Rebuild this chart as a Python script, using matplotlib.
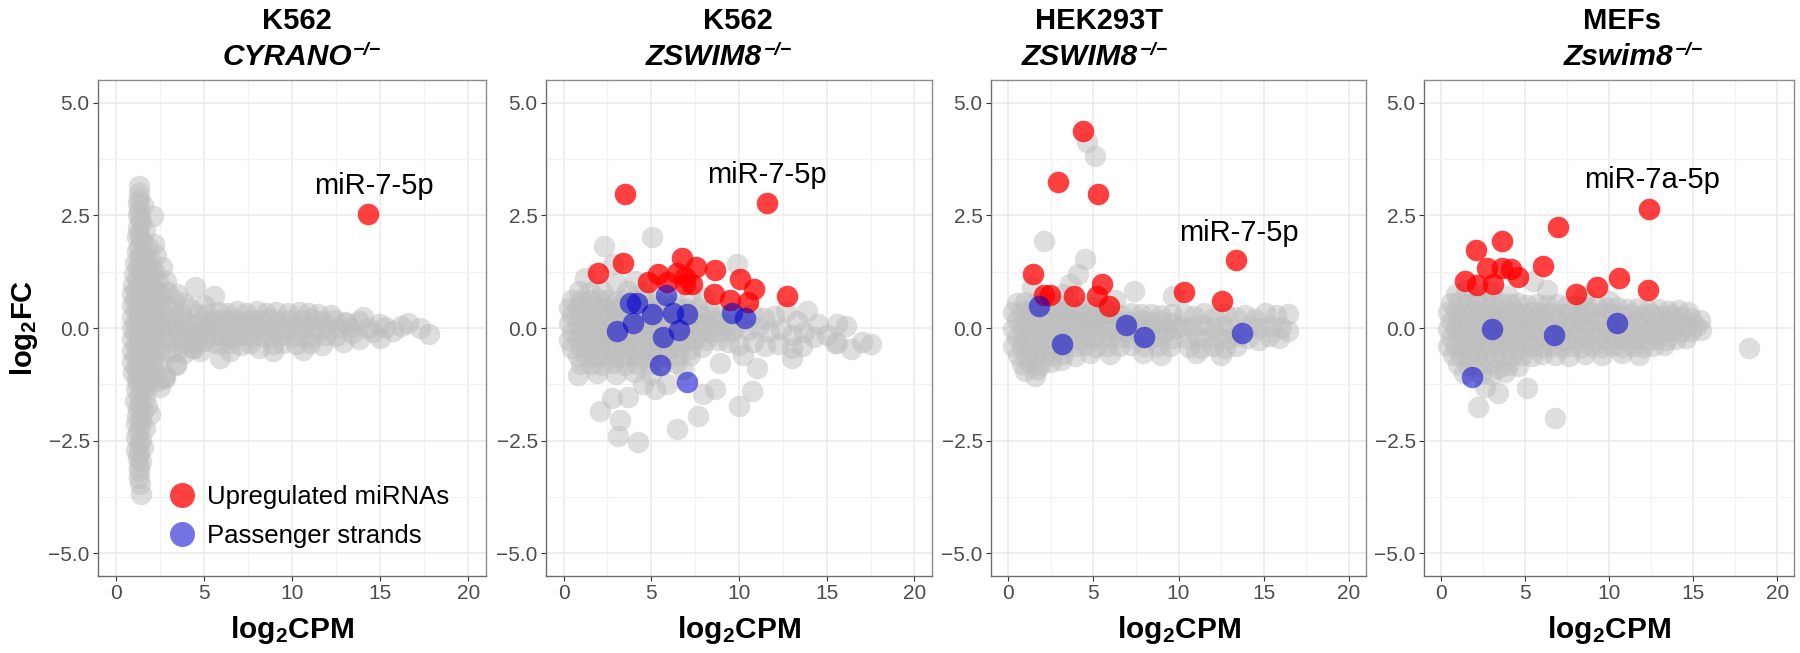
import numpy as np
import matplotlib
matplotlib.use('Agg')
import matplotlib.pyplot as plt
from matplotlib.lines import Line2D

plt.rcParams['font.family'] = ['Liberation Sans', 'DejaVu Sans']
plt.rcParams['mathtext.fontset'] = 'custom'
plt.rcParams['mathtext.rm'] = 'Liberation Sans'
plt.rcParams['mathtext.bf'] = 'Liberation Sans:bold'
plt.rcParams['mathtext.it'] = 'Liberation Sans:italic'

# ---------------- data (log2CPM, log2FC) ----------------
# K562 CYRANO-/-
cyr_gray = [
    # upper column
    (1.30, 3.15), (1.30, 3.00), (1.35, 2.85), (1.25, 2.78), (1.55, 2.72), (1.30, 2.62), (1.25, 2.50),
    (1.40, 2.45), (2.10, 2.48), (1.45, 2.35), (1.25, 2.25), (1.65, 2.18), (1.30, 2.10), (1.20, 2.02),
    (1.45, 1.98), (2.15, 1.86), (1.55, 1.90), (1.85, 1.80), (1.30, 1.80), (1.20, 1.70), (2.30, 1.62),
    (1.45, 1.65), (1.65, 1.58), (1.95, 1.52), (1.30, 1.55), (1.10, 1.45), (1.50, 1.45), (2.65, 1.35),
    (1.75, 1.38), (1.25, 1.35), (2.05, 1.30), (2.25, 1.22), (1.40, 1.25), (1.05, 1.20), (1.65, 1.18),
    (2.85, 1.05), (1.90, 1.12), (1.20, 1.10), (2.40, 1.05),
    # core
    (1.00, 0.96), (1.35, 0.94), (1.70, 0.97), (2.00, 0.93), (1.15, 0.85), (1.50, 0.84), (1.85, 0.86),
    (2.30, 0.83), (0.95, 0.75), (1.30, 0.74), (1.65, 0.76), (2.05, 0.73), (2.50, 0.75), (1.10, 0.62),
    (1.45, 0.61), (1.80, 0.63), (2.20, 0.60), (0.95, 0.50), (1.30, 0.49), (1.65, 0.51), (2.00, 0.48),
    (2.45, 0.50), (2.80, 0.52), (1.15, 0.38), (1.50, 0.37), (1.85, 0.39), (2.25, 0.36), (0.95, 0.25),
    (1.30, 0.24), (1.65, 0.26), (2.00, 0.23), (2.40, 0.25), (2.75, 0.27), (1.10, 0.12), (1.45, 0.11),
    (1.80, 0.13), (2.20, 0.10), (0.95, 0.00), (1.30, -0.01), (1.65, 0.01), (2.00, -0.02), (2.40, 0.00),
    (2.80, 0.02), (1.10, -0.12), (1.45, -0.13), (1.80, -0.11), (2.20, -0.14), (0.95, -0.25), (1.30, -0.26),
    (1.65, -0.24), (2.00, -0.27), (2.40, -0.25), (2.75, -0.23), (1.15, -0.38), (1.50, -0.39), (1.85, -0.37),
    (2.25, -0.40), (0.95, -0.50), (1.30, -0.51), (1.65, -0.49), (2.00, -0.52), (2.45, -0.50), (1.10, -0.62),
    (1.45, -0.63), (1.80, -0.61), (2.20, -0.64), (0.95, -0.75), (1.30, -0.76), (1.65, -0.74), (2.05, -0.77),
    (2.50, -0.75), (1.15, -0.88), (1.50, -0.89), (1.85, -0.87), (1.00, -1.00), (1.35, -1.01), (1.70, -0.99),
    (2.10, -1.02), (1.20, -1.12), (1.55, -1.13), (1.90, -1.11),
    # lower column
    (1.25, -1.22), (1.60, -1.25), (2.35, -1.18), (2.80, -1.10), (1.15, -1.35), (1.45, -1.38), (1.80, -1.32),
    (2.50, -1.30), (1.30, -1.50), (1.65, -1.55), (1.10, -1.62), (1.40, -1.68), (1.75, -1.72), (1.25, -1.80),
    (1.55, -1.85), (1.95, -1.90), (1.20, -1.95), (1.45, -2.02), (1.15, -2.10), (1.40, -2.18), (1.65, -2.22),
    (1.25, -2.30), (1.15, -2.42), (1.45, -2.48), (1.30, -2.58), (1.55, -2.65), (1.15, -2.70), (1.35, -2.78),
    (1.25, -2.88), (1.45, -2.95), (1.30, -3.05), (1.35, -3.18), (1.30, -3.32), (1.40, -3.45), (1.45, -3.68),
    # taper
    (2.90, 0.80), (3.30, 0.62), (3.50, 0.75), (3.90, 0.55), (4.50, 0.92), (4.20, 0.45), (5.00, 0.50),
    (5.60, 0.70), (3.20, 0.40), (3.70, 0.30), (4.60, 0.32), (5.20, 0.30), (3.00, 0.20), (3.40, 0.10),
    (3.80, 0.15), (4.20, 0.08), (4.60, 0.12), (5.00, 0.05), (5.40, 0.12), (3.20, -0.05), (3.60, -0.10),
    (4.00, -0.05), (4.40, -0.12), (4.80, -0.08), (5.20, -0.12), (3.00, -0.30), (3.40, -0.25), (3.80, -0.32),
    (4.20, -0.28), (4.60, -0.30), (5.00, -0.28), (5.50, -0.30), (3.10, -0.55), (3.50, -0.50), (3.90, -0.55),
    (4.40, -0.45), (4.80, -0.50), (3.40, -0.80), (2.80, -1.05), (4.37, -0.44), (3.43, -0.81), (5.90, -0.66),
    (2.77, -1.10),
    # band
    (5.80, 0.36), (6.30, 0.34), (6.90, 0.37), (7.40, 0.33), (8.00, 0.38), (8.50, 0.34), (9.10, 0.36),
    (9.80, 0.33), (10.40, 0.35), (10.90, 0.34), (11.50, 0.30), (12.20, 0.28),
    (5.60, 0.18), (6.10, 0.17), (6.60, 0.19), (7.10, 0.16), (7.70, 0.18), (8.20, 0.17), (8.80, 0.19),
    (9.30, 0.16), (9.90, 0.18), (10.50, 0.17), (11.10, 0.19), (11.70, 0.15), (12.40, 0.18), (13.00, 0.14),
    (5.80, 0.00), (6.30, 0.01), (6.90, -0.01), (7.40, 0.02), (8.00, 0.00), (8.50, -0.02), (9.00, 0.01),
    (9.60, 0.00), (10.20, -0.01), (10.80, 0.02), (11.40, 0.00), (12.00, -0.02), (12.60, 0.01), (13.30, -0.01),
    (5.60, -0.18), (6.10, -0.17), (6.60, -0.19), (7.20, -0.16), (7.70, -0.18), (8.30, -0.17), (8.80, -0.19),
    (9.40, -0.16), (10.00, -0.18), (10.60, -0.17), (11.20, -0.19), (11.90, -0.15), (12.50, -0.18),
    (5.90, -0.36), (6.50, -0.34), (7.10, -0.37), (7.60, -0.33), (8.15, -0.44), (8.90, -0.36), (9.50, -0.34),
    (10.20, -0.35), (11.00, -0.33), (11.70, -0.38), (6.50, -0.50), (8.90, -0.51), (10.60, -0.48),
    # tail
    (13.05, 0.12), (13.40, -0.10), (13.80, 0.15), (13.80, -0.25), (14.30, 0.00), (14.60, -0.08),
    (14.94, 0.09), (15.30, 0.02), (15.70, -0.07), (16.20, 0.05), (16.60, 0.10), (17.24, 0.01),
    (17.77, -0.13), (12.90, -0.30), (14.00, 0.25), (15.00, -0.22),
]
cyr_red = [(14.3, 2.52)]
cyr_blue = []

# K562 ZSWIM8-/-
k562_gray = [
    # upper outliers / edge
    (2.30, 1.82), (2.80, 1.41), (5.02, 2.02), (9.87, 1.41), (1.20, 1.10), (4.10, 1.05), (3.00, 1.00),
    (0.90, 0.82), (1.50, 0.80), (2.20, 0.83), (3.60, 0.81), (4.50, 0.78), (7.20, 0.70), (8.00, 0.66),
    # blob
    (0.50, 0.62), (1.00, 0.63), (1.50, 0.61), (2.00, 0.64), (2.50, 0.62), (3.00, 0.60), (3.50, 0.63),
    (4.00, 0.61), (4.60, 0.62), (5.20, 0.60), (5.80, 0.58), (6.40, 0.56),
    (0.30, 0.45), (0.80, 0.46), (1.30, 0.44), (1.80, 0.47), (2.30, 0.45), (2.80, 0.43), (3.30, 0.46),
    (3.80, 0.44), (4.30, 0.45), (4.80, 0.43), (5.30, 0.46), (5.80, 0.44), (6.40, 0.45), (7.00, 0.42),
    (7.60, 0.44), (8.30, 0.40),
    (0.50, 0.28), (1.00, 0.29), (1.50, 0.27), (2.00, 0.30), (2.50, 0.28), (3.00, 0.26), (3.50, 0.29),
    (4.00, 0.27), (4.50, 0.28), (5.00, 0.26), (5.50, 0.29), (6.00, 0.27), (6.60, 0.28), (7.20, 0.26),
    (7.80, 0.29), (8.40, 0.25), (8.90, 0.27),
    (0.30, 0.10), (0.80, 0.11), (1.30, 0.09), (1.80, 0.12), (2.30, 0.10), (2.80, 0.08), (3.30, 0.11),
    (3.80, 0.09), (4.30, 0.10), (4.80, 0.08), (5.30, 0.11), (5.80, 0.09), (6.30, 0.10), (6.90, 0.08),
    (7.50, 0.11), (8.10, 0.09), (8.70, 0.10), (9.30, 0.07),
    (0.50, -0.08), (1.00, -0.07), (1.50, -0.09), (2.00, -0.06), (2.50, -0.08), (3.00, -0.10), (3.50, -0.07),
    (4.00, -0.09), (4.50, -0.08), (5.00, -0.10), (5.50, -0.07), (6.00, -0.09), (6.60, -0.08), (7.20, -0.10),
    (7.80, -0.07), (8.40, -0.09), (9.00, -0.08), (9.60, -0.06),
    (0.30, -0.26), (0.80, -0.25), (1.30, -0.27), (1.80, -0.24), (2.30, -0.26), (2.80, -0.28), (3.30, -0.25),
    (3.80, -0.27), (4.30, -0.26), (4.80, -0.28), (5.30, -0.25), (5.80, -0.27), (6.30, -0.26), (6.90, -0.28),
    (7.50, -0.25), (8.10, -0.27), (8.80, -0.26),
    (0.50, -0.44), (1.00, -0.43), (1.50, -0.45), (2.00, -0.42), (2.50, -0.44), (3.00, -0.46), (3.50, -0.43),
    (4.00, -0.45), (4.50, -0.44), (5.00, -0.46), (5.50, -0.43), (6.00, -0.45), (6.60, -0.44), (7.20, -0.46),
    (7.90, -0.42),
    (0.80, -0.62), (1.30, -0.61), (1.80, -0.63), (2.30, -0.60), (2.80, -0.62), (3.30, -0.64), (3.80, -0.61),
    (4.30, -0.63), (4.80, -0.62), (5.30, -0.64), (5.90, -0.61), (6.50, -0.63), (7.20, -0.60),
    (1.00, -0.80), (1.60, -0.79), (2.20, -0.81), (2.80, -0.78), (3.50, -0.82), (4.20, -0.80), (4.90, -0.79),
    (5.60, -0.81), (6.40, -0.78), (0.84, -1.04), (1.90, -1.00), (3.00, -1.02), (4.00, -0.98), (5.00, -1.03),
    (6.80, -0.92), (5.88, -1.24), (4.50, -1.25), (5.20, -1.35),
    # band to the right
    (9.50, 0.32), (10.20, 0.28), (10.80, 0.30), (11.40, 0.22), (12.00, 0.26), (12.70, 0.38), (13.30, 0.15),
    (13.86, 0.38), (14.50, 0.08), (15.57, 0.08),
    (9.90, 0.05), (10.50, -0.05), (11.10, 0.02), (11.70, -0.08), (12.40, -0.02), (13.00, -0.15),
    (13.70, -0.08), (14.30, -0.20), (15.00, -0.15), (15.47, -0.33),
    (9.40, -0.30), (10.00, -0.38), (10.80, -0.32), (11.50, -0.40), (12.20, -0.36), (13.00, -0.45),
    (13.60, -0.40), (8.93, -0.77), (10.21, -0.59), (13.00, -0.66), (15.60, -0.33), (16.10, 0.04),
    (16.40, -0.47), (17.00, -0.30), (17.50, -0.35),
    # lower outliers
    (2.08, -1.84), (2.75, -1.55), (3.70, -1.53), (3.22, -2.03), (3.12, -2.40), (4.26, -2.53), (6.45, -2.24),
    (7.68, -1.96), (7.97, -1.46), (8.63, -1.36), (10.00, -1.72), (10.72, -1.40), (11.05, -0.88),
]
k562_red = [
    (3.50, 2.97), (11.60, 2.78), (1.98, 1.21), (3.41, 1.44), (6.73, 1.56), (7.55, 1.36), (8.65, 1.28),
    (10.06, 1.08), (10.87, 0.86), (12.75, 0.71), (4.83, 1.03), (5.40, 1.19), (6.45, 1.21), (6.92, 1.12),
    (6.92, 0.97), (7.30, 0.97), (8.56, 0.75), (9.49, 0.62), (10.53, 0.58), (5.88, 1.01),
]
k562_blue = [
    (3.79, 0.56), (4.17, 0.56), (5.84, 0.73), (5.02, 0.32), (6.22, 0.34), (7.02, 0.32), (3.98, 0.12),
    (3.07, -0.07), (5.69, -0.19), (6.56, -0.05), (5.50, -0.81), (7.02, -1.19), (9.58, 0.34), (10.34, 0.23),
]

# HEK293T ZSWIM8-/-
hek_gray = [
    (4.62, 4.12), (5.10, 3.82), (2.11, 1.92), (4.52, 1.53), (4.13, 1.19), (3.64, 0.97), (7.39, 0.81),
    (1.39, 0.90), (9.70, 0.70), (1.58, -1.07), (3.20, 0.75), (6.30, 0.62),
    (0.50, 0.55), (1.00, 0.58), (1.50, 0.54), (2.00, 0.57), (2.50, 0.52), (3.00, 0.50), (3.60, 0.48),
    (4.30, 0.45), (5.00, 0.46), (5.70, 0.42),
    (0.30, 0.36), (0.80, 0.38), (1.30, 0.35), (1.80, 0.37), (2.30, 0.34), (2.80, 0.36), (3.30, 0.33),
    (3.80, 0.35), (4.30, 0.30), (4.80, 0.33), (5.40, 0.30), (6.00, 0.32), (6.60, 0.29), (7.20, 0.33),
    (7.80, 0.30), (8.40, 0.32), (9.00, 0.28), (9.60, 0.31),
    (0.50, 0.17), (1.00, 0.18), (1.50, 0.16), (2.00, 0.19), (2.50, 0.17), (3.00, 0.15), (3.50, 0.18),
    (4.00, 0.16), (4.50, 0.14), (5.00, 0.17), (5.50, 0.15), (6.00, 0.13), (6.60, 0.16), (7.20, 0.14),
    (7.80, 0.17), (8.40, 0.13), (9.00, 0.15), (9.60, 0.12),
    (0.30, -0.02), (0.80, -0.01), (1.30, -0.03), (1.80, 0.00), (2.30, -0.02), (2.80, -0.04), (3.30, -0.01),
    (3.80, -0.03), (4.30, -0.02), (4.80, -0.04), (5.30, -0.01), (5.80, -0.03), (6.30, -0.02), (6.90, -0.04),
    (7.50, -0.01), (8.10, -0.03), (8.70, -0.02), (9.30, -0.04), (9.90, -0.01),
    (0.50, -0.21), (1.00, -0.20), (1.50, -0.22), (2.00, -0.19), (2.50, -0.21), (3.00, -0.23), (3.50, -0.20),
    (4.00, -0.22), (4.50, -0.21), (5.00, -0.23), (5.50, -0.20), (6.00, -0.22), (6.60, -0.21), (7.20, -0.23),
    (7.80, -0.20), (8.40, -0.22), (9.00, -0.21), (9.60, -0.23),
    (0.30, -0.40), (0.80, -0.39), (1.30, -0.41), (1.80, -0.38), (2.30, -0.40), (2.80, -0.42), (3.30, -0.39),
    (3.90, -0.41), (4.50, -0.38), (5.10, -0.42), (5.80, -0.39), (6.50, -0.41), (7.20, -0.38), (8.00, -0.40),
    (8.80, -0.39), (9.50, -0.41),
    (0.60, -0.60), (1.10, -0.61), (1.60, -0.59), (2.10, -0.62), (2.60, -0.60), (3.20, -0.58), (3.90, -0.62),
    (4.80, -0.55), (6.00, -0.58), (7.90, -0.55), (9.00, -0.60),
    (0.80, -0.80), (1.30, -0.78), (1.90, -0.82), (2.50, -0.76), (3.10, -0.70), (1.00, -0.95), (1.70, -0.92),
    (10.30, 0.30), (10.90, 0.26), (11.50, 0.33), (12.10, 0.22), (12.70, 0.30), (13.30, 0.24), (13.90, 0.28),
    (14.50, 0.20), (15.10, 0.34), (15.70, 0.28), (16.40, 0.30),
    (10.20, 0.05), (10.80, 0.02), (11.40, 0.06), (12.00, 0.00), (12.60, 0.04), (13.20, -0.02), (14.20, 0.05),
    (14.80, 0.00), (15.40, 0.05), (16.00, 0.02), (16.40, -0.07),
    (10.50, -0.22), (11.10, -0.18), (11.70, -0.25), (12.30, -0.20), (12.90, -0.24), (13.50, -0.18),
    (14.10, -0.22), (14.70, -0.26), (15.30, -0.18), (15.90, -0.22),
    (10.60, -0.42), (11.30, -0.45), (12.00, -0.40), (12.70, -0.45), (13.40, -0.40), (11.00, -0.55),
    (12.50, -0.60),
]
hek_red = [
    (4.42, 4.38), (2.95, 3.24), (5.26, 2.98), (1.49, 1.19), (2.11, 0.73), (2.46, 0.73), (3.87, 0.70),
    (5.24, 0.70), (5.53, 0.97), (5.94, 0.49), (10.32, 0.80), (12.53, 0.60), (13.37, 1.50),
]
hek_blue = [(1.82, 0.49), (3.15, -0.35), (6.90, 0.07), (7.98, -0.20), (13.74, -0.12)]

# MEFs Zswim8-/-
mef_gray = [
    (0.93, 0.75), (5.50, 1.04), (1.50, 0.85), (3.00, 0.80), (6.30, 0.85), (4.00, 0.72), (8.50, 0.70),
    (10.00, 0.60), (2.20, 0.70),
    (0.60, 0.55), (1.10, 0.57), (1.60, 0.54), (2.10, 0.58), (2.60, 0.55), (3.10, 0.52), (3.60, 0.56),
    (4.10, 0.53), (4.60, 0.55), (5.10, 0.51), (5.70, 0.54), (6.30, 0.50), (6.90, 0.53), (7.50, 0.48),
    (8.10, 0.50), (8.70, 0.46), (9.30, 0.49), (9.90, 0.44), (10.50, 0.47), (11.10, 0.42), (11.70, 0.45),
    (12.30, 0.40), (12.90, 0.43), (13.50, 0.38), (14.10, 0.40), (14.70, 0.35),
    (0.40, 0.35), (0.90, 0.37), (1.40, 0.34), (1.90, 0.38), (2.40, 0.35), (2.90, 0.33), (3.40, 0.36),
    (3.90, 0.34), (4.40, 0.35), (4.90, 0.32), (5.40, 0.36), (5.90, 0.33), (6.50, 0.34), (7.10, 0.31),
    (7.70, 0.34), (8.30, 0.30), (8.90, 0.33), (9.50, 0.29), (10.10, 0.32), (10.70, 0.28), (11.30, 0.31),
    (11.90, 0.27), (12.50, 0.30), (13.10, 0.26), (13.70, 0.28), (14.30, 0.24), (14.90, 0.22), (15.40, 0.18),
    (0.60, 0.16), (1.10, 0.17), (1.60, 0.15), (2.10, 0.18), (2.60, 0.16), (3.10, 0.14), (3.60, 0.17),
    (4.10, 0.15), (4.60, 0.16), (5.10, 0.13), (5.60, 0.17), (6.20, 0.14), (6.80, 0.15), (7.40, 0.12),
    (8.00, 0.15), (8.60, 0.11), (9.20, 0.14), (9.80, 0.10), (10.40, 0.13), (11.00, 0.09), (11.60, 0.12),
    (12.20, 0.08), (12.80, 0.11), (13.40, 0.07), (14.00, 0.09), (14.60, 0.05), (15.20, 0.04),
    (0.40, -0.03), (0.90, -0.02), (1.40, -0.04), (1.90, -0.01), (2.40, -0.03), (2.90, -0.05), (3.40, -0.02),
    (3.90, -0.04), (4.40, -0.03), (4.90, -0.05), (5.40, -0.02), (5.90, -0.04), (6.50, -0.03), (7.10, -0.06),
    (7.70, -0.03), (8.30, -0.05), (8.90, -0.04), (9.50, -0.07), (10.10, -0.04), (10.70, -0.06),
    (11.30, -0.05), (11.90, -0.08), (12.50, -0.05), (13.10, -0.07), (13.70, -0.06), (14.30, -0.08),
    (14.90, -0.06), (15.50, -0.05),
    (0.60, -0.22), (1.10, -0.21), (1.60, -0.23), (2.10, -0.20), (2.60, -0.22), (3.10, -0.24), (3.60, -0.21),
    (4.10, -0.23), (4.60, -0.22), (5.10, -0.24), (5.60, -0.21), (6.20, -0.23), (6.80, -0.22), (7.40, -0.25),
    (8.00, -0.22), (8.60, -0.24), (9.20, -0.23), (9.80, -0.26), (10.40, -0.23), (11.00, -0.25),
    (11.60, -0.24), (12.20, -0.27), (12.80, -0.24), (13.40, -0.26), (14.00, -0.25), (14.60, -0.22),
    (0.40, -0.41), (0.90, -0.40), (1.40, -0.42), (1.90, -0.39), (2.40, -0.41), (2.90, -0.43), (3.40, -0.40),
    (3.90, -0.42), (4.40, -0.41), (4.90, -0.43), (5.40, -0.40), (6.00, -0.42), (6.60, -0.41), (7.20, -0.43),
    (7.80, -0.40), (8.40, -0.42), (9.00, -0.41), (9.60, -0.43), (10.20, -0.40), (10.80, -0.42),
    (11.40, -0.41), (12.00, -0.43), (12.60, -0.40), (13.30, -0.38),
    (0.70, -0.60), (1.20, -0.59), (1.70, -0.61), (2.20, -0.58), (2.70, -0.60), (3.20, -0.62), (3.70, -0.59),
    (4.20, -0.61), (4.80, -0.60), (5.40, -0.62), (6.00, -0.58), (6.80, -0.60), (7.60, -0.62), (8.60, -0.58),
    (9.60, -0.60), (10.80, -0.56), (11.80, -0.60),
    (1.00, -0.80), (1.60, -0.82), (2.20, -0.85), (2.80, -0.80), (3.40, -0.88), (4.00, -0.82), (4.60, -0.85),
    (1.40, -1.00), (2.40, -1.02), (3.00, -1.05), (3.80, -0.98),
    (2.60, -1.30), (3.40, -1.45), (5.10, -1.33), (2.20, -1.75), (6.80, -2.00), (18.30, -0.45),
]
mef_red = [
    (6.98, 2.23), (3.65, 1.92), (2.12, 1.73), (1.43, 1.04), (2.16, 0.96), (2.72, 1.33), (3.11, 0.97),
    (3.61, 1.34), (4.20, 1.30), (4.60, 1.13), (6.09, 1.38), (8.04, 0.76), (9.27, 0.90), (10.60, 1.10),
    (12.30, 0.85), (12.40, 2.65),
]
mef_blue = [(3.02, -0.03), (6.75, -0.16), (1.86, -1.09), (10.50, 0.10)]

cell_lines = ['K562', 'K562', 'HEK293T', 'MEFs']
genes = ['CYRANO', 'ZSWIM8', 'ZSWIM8', 'Zswim8']
labels = ['miR-7-5p', 'miR-7-5p', 'miR-7-5p', 'miR-7a-5p']
label_xy = [(14.66, 2.98), (11.57, 3.22), (13.55, 1.93), (12.53, 3.11)]

gray_sets = [cyr_gray, k562_gray, hek_gray, mef_gray]
red_sets = [cyr_red, k562_red, hek_red, mef_red]
blue_sets = [cyr_blue, k562_blue, hek_blue, mef_blue]

# ---------------- layout ----------------
W, H = 1800, 653
fig = plt.figure(figsize=(W / 100, H / 100), dpi=100)
panel_px = [(98, 388), (546, 386), (991, 375), (1424, 370)]   # left, width in px
top_px, bot_px = 80, 576
title1_cx = [297, 738, 1099, 1622]
title2_cx = [305, 722, 1098, 1637]

S = 240
GRAY, RED, BLUE = '#BEBEBE', '#FF0000', '#0000CD'

for i in range(4):
    l, w = panel_px[i]
    ax = fig.add_axes([l / W, (H - bot_px) / H, w / W, (bot_px - top_px) / H])
    g = np.array(gray_sets[i])
    ax.scatter(g[:, 0], g[:, 1], s=S, c=GRAY, alpha=0.5, linewidths=0, zorder=2)
    if red_sets[i]:
        r = np.array(red_sets[i])
        ax.scatter(r[:, 0], r[:, 1], s=S, c=RED, alpha=0.75, linewidths=0, zorder=3)
    if blue_sets[i]:
        b = np.array(blue_sets[i])
        ax.scatter(b[:, 0], b[:, 1], s=S, c=BLUE, alpha=0.55, linewidths=0, zorder=4)

    ax.text(label_xy[i][0], label_xy[i][1], labels[i], ha='center', va='baseline',
            fontsize=21, color='black', zorder=5)

    ax.set_xlim(-1, 21)
    ax.set_ylim(-5.5, 5.5)
    ax.set_xticks([0, 5, 10, 15, 20])
    ax.set_xticks([2.5, 7.5, 12.5, 17.5], minor=True)
    ax.set_yticks([-5, -2.5, 0, 2.5, 5])
    ax.set_yticklabels(['\u22125.0', '\u22122.5', '0.0', '2.5', '5.0'])
    ax.set_yticks([-3.75, -1.25, 1.25, 3.75], minor=True)
    ax.grid(which='major', color='#EBEBEB', lw=1.2, zorder=0)
    ax.grid(which='minor', color='#F2F2F2', lw=0.9, zorder=0)
    ax.set_axisbelow(True)
    ax.tick_params(which='major', length=3.5, width=0.8, color='#333333',
                   labelsize=15, labelcolor='#4D4D4D', pad=2.5)
    ax.tick_params(which='minor', length=0)
    for side, sp in ax.spines.items():
        sp.set_color('#6E6E6E' if side in ('left', 'bottom') else '#8C8C8C')
        sp.set_linewidth(1.0)

    ax.set_xlabel(r'$\mathbf{log_2CPM}$', fontsize=21.5, labelpad=8)
    if i == 0:
        ax.set_ylabel(r'$\mathbf{log_2FC}$', fontsize=21, labelpad=6)
        handles = [
            Line2D([], [], ls='none', marker='o', ms=18, mfc=RED, mec='none', alpha=0.75),
            Line2D([], [], ls='none', marker='o', ms=18, mfc=BLUE, mec='none', alpha=0.55),
        ]
        ax.legend(handles, ['Upregulated miRNAs', 'Passenger strands'], loc='center left',
                  bbox_to_anchor=(0.184, 0.12), frameon=False, fontsize=18.5, handlelength=1.0,
                  handletextpad=0.45, labelspacing=0.55, borderpad=0, borderaxespad=0)

    # two-line titles
    fig.text(title1_cx[i] / W, 1 - 29 / H, cell_lines[i], ha='center', va='baseline',
             fontsize=21, fontweight='bold')
    t2 = fig.text((title2_cx[i] - 18) / W, 1 - 65 / H, genes[i], ha='center', va='baseline',
                  fontsize=21.5, fontweight='bold', fontstyle='italic')
    ax.annotate('\u2212/\u2212', xy=(1, 1), xycoords=t2, xytext=(1, 1), textcoords='offset points',
                ha='left', va='top', fontsize=14, fontweight='bold', fontstyle='italic',
                annotation_clip=False)

fig.savefig('out.png', dpi=100)
